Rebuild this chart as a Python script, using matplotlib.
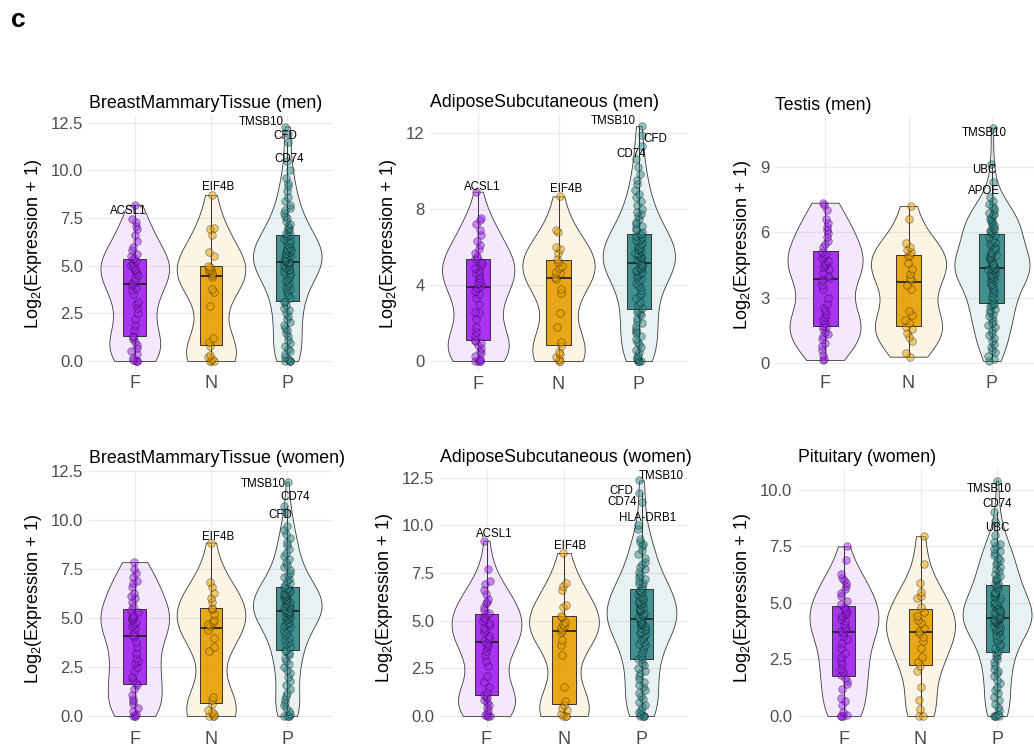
import numpy as np
import matplotlib.pyplot as plt
from matplotlib.colors import to_rgba

plt.rcParams['font.family'] = ['Liberation Sans', 'DejaVu Sans']
plt.rcParams['mathtext.fontset'] = 'custom'
plt.rcParams['mathtext.rm'] = 'Liberation Sans'
plt.rcParams['mathtext.default'] = 'regular'

groups = ['F', 'N', 'P']
colors = ['#A020F0', '#E69F00', '#2F8787']

# ---- BreastMammaryTissue (men)
breast_men_F = [0, 0, 0, 0.05, 0.15, 0.35, 0.5, 0.7, 0.85, 1.0, 1.15, 1.25,
                1.32, 1.6, 1.9, 2.2, 2.5, 2.8, 3.0, 3.1, 3.5, 3.7, 3.85, 4.0,
                4.1, 4.2, 4.35, 4.5, 4.6, 4.75, 4.85, 4.95, 5.05, 5.15, 5.25, 5.35,
                5.4, 5.5, 5.6, 5.8, 6.0, 6.3, 6.6, 6.9, 7.1, 7.3, 7.45, 8.2]
breast_men_N = [0, 0, 0, 0.1, 0.2, 0.3, 0.8, 1.0, 1.2, 2.9, 3.6, 3.8, 4.4,
                4.5, 4.6, 4.7, 4.75, 4.8, 4.95, 5.0, 5.5, 5.7, 6.6, 6.9, 7.0, 8.7]
breast_men_P = [0, 0, 0, 0, 0.1, 0.2, 0.35, 0.5, 0.65, 0.8, 0.95, 1.1, 1.3,
                1.45, 1.6, 1.75, 1.9, 2.05, 2.2, 2.35, 2.5, 2.65, 2.8, 2.95, 3.1,
                3.17, 3.3, 3.45, 3.6, 3.7, 3.8, 3.9, 4.0, 4.1, 4.2, 4.3, 4.4, 4.5,
                4.55, 4.6, 4.7, 4.75, 4.8, 4.9, 4.95, 5.0, 5.05, 5.1, 5.15, 5.2,
                5.2, 5.25, 5.3, 5.35, 5.4, 5.45, 5.5, 5.55, 5.6, 5.65, 5.7, 5.75,
                5.8, 5.85, 5.9, 5.95, 6.0, 6.1, 6.15, 6.2, 6.3, 6.35, 6.4, 6.5, 6.6,
                6.62, 6.7, 6.8, 6.9, 7.0, 7.1, 7.2, 7.35, 7.5, 7.6, 7.75, 7.9, 8.0,
                8.2, 8.4, 8.6, 8.9, 9.2, 9.35, 9.6, 10.0, 10.5, 11.5, 11.9, 12.3]
breast_men_genes = [(0, 'ACSL1', 8.2), (1, 'EIF4B', 8.7), (2, 'TMSB10', 12.3),
                    (2, 'CFD', 11.9), (2, 'CD74', 11.5)]

# ---- AdiposeSubcutaneous (men)
adipose_men_F = [0, 0, 0, 0, 0.1, 0.25, 0.4, 0.55, 0.7, 0.85, 0.95, 1.05,
                 1.12, 1.3, 1.55, 1.8, 2.2, 2.5, 2.6, 3.0, 3.3, 3.5, 3.7, 3.85,
                 3.95, 4.1, 4.2, 4.35, 4.5, 4.6, 4.75, 4.9, 5.0, 5.1, 5.2, 5.35,
                 5.4, 5.5, 5.7, 5.9, 6.1, 6.3, 6.6, 6.9, 7.2, 7.4, 7.5, 8.9]
adipose_men_N = [0, 0, 0.1, 0.2, 0.35, 0.5, 0.8, 1.0, 1.8, 2.5, 3.6, 3.8, 4.3,
                 4.4, 4.6, 4.7, 4.9, 5.0, 5.2, 5.35, 5.7, 5.9, 6.0, 6.8, 6.9, 8.65]
adipose_men_P = [0, 0, 0, 0, 0.1, 0.2, 0.3, 0.45, 0.6, 0.75, 0.9, 1.0, 1.15,
                 1.3, 1.45, 1.6, 1.7, 1.85, 2.0, 2.1, 2.25, 2.4, 2.5, 2.6, 2.7,
                 2.77, 2.95, 3.1, 3.3, 3.45, 3.6, 3.75, 3.9, 4.0, 4.1, 4.2, 4.3,
                 4.4, 4.5, 4.55, 4.6, 4.7, 4.75, 4.8, 4.85, 4.9, 4.95, 5.0, 5.05, 5.1,
                 5.2, 5.25, 5.3, 5.35, 5.4, 5.45, 5.5, 5.55, 5.6, 5.65, 5.7, 5.8,
                 5.85, 5.9, 5.95, 6.0, 6.1, 6.15, 6.2, 6.3, 6.35, 6.4, 6.5, 6.55, 6.65,
                 6.7, 6.8, 6.9, 7.0, 7.1, 7.2, 7.3, 7.45, 7.6, 7.7, 7.85, 8.0, 8.2,
                 8.4, 8.6, 8.8, 9.0, 9.3, 9.5, 9.8, 10.2, 10.6, 11.3, 11.85, 12.35]
adipose_men_genes = [(0, 'ACSL1', 8.9), (1, 'EIF4B', 8.65), (2, 'TMSB10', 12.35),
                     (2, 'CFD', 11.85), (2, 'CD74', 11.3)]

# ---- Testis (men)
testis_F = [0.15, 0.2, 0.4, 0.6, 0.8, 0.95, 1.1, 1.25, 1.35, 1.45, 1.55, 1.65,
            1.72, 1.85, 2.0, 2.1, 2.25, 2.4, 2.55, 2.7, 3.0, 3.4, 3.6, 3.8,
            3.9, 4.0, 4.15, 4.3, 4.4, 4.5, 4.6, 4.7, 4.8, 4.9, 5.0, 5.1,
            5.3, 5.45, 5.6, 5.8, 5.95, 6.1, 6.25, 6.4, 6.6, 7.0, 7.25, 7.35]
testis_N = [0.3, 0.45, 1.0, 1.2, 1.4, 1.55, 1.65, 1.85, 2.0, 2.2, 2.4, 3.4, 3.6,
            3.8, 3.9, 4.1, 4.3, 4.6, 4.9, 4.97, 5.1, 5.2, 5.3, 5.5, 6.6, 7.2]
testis_P = [0.1, 0.2, 0.35, 0.5, 0.6, 0.75, 0.9, 1.0, 1.15, 1.3, 1.4, 1.5, 1.65,
            1.75, 1.85, 1.95, 2.05, 2.15, 2.25, 2.35, 2.45, 2.5, 2.6, 2.65, 2.72,
            2.76, 2.9, 3.0, 3.1, 3.2, 3.3, 3.4, 3.5, 3.6, 3.65, 3.7, 3.8, 3.85,
            3.9, 3.95, 4.0, 4.05, 4.1, 4.15, 4.2, 4.25, 4.28, 4.3, 4.33, 4.35,
            4.35, 4.4, 4.45, 4.5, 4.55, 4.6, 4.7, 4.75, 4.8, 4.85, 4.9, 4.95,
            5.0, 5.05, 5.1, 5.2, 5.25, 5.3, 5.4, 5.5, 5.55, 5.6, 5.7, 5.8, 5.88,
            5.95, 6.0, 6.05, 6.1, 6.15, 6.2, 6.3, 6.35, 6.4, 6.5, 6.55, 6.6, 6.7,
            6.8, 6.85, 6.9, 7.0, 7.1, 7.2, 7.3, 7.45, 7.6, 8.3, 9.1, 10.75]
testis_genes = [(2, 'TMSB10', 10.75), (2, 'UBC', 9.1), (2, 'APOE', 8.3)]

# ---- BreastMammaryTissue (women)
breast_women_F = [0, 0, 0, 0.1, 0.25, 0.4, 0.6, 0.75, 0.85, 1.1, 1.4, 1.6,
                  1.67, 1.85, 2.0, 2.3, 2.5, 2.7, 2.8, 2.95, 3.2, 3.5, 3.8, 4.05,
                  4.15, 4.3, 4.5, 4.6, 4.7, 4.8, 4.9, 5.0, 5.05, 5.15, 5.3, 5.4,
                  5.6, 5.8, 6.0, 6.1, 6.3, 6.6, 6.8, 6.9, 7.1, 7.3, 7.5, 7.85]
breast_women_N = [0, 0, 0, 0.1, 0.2, 0.3, 0.6, 0.8, 0.95, 3.3, 3.5, 4.0, 4.4,
                  4.6, 4.7, 4.8, 4.9, 5.2, 5.45, 5.52, 5.8, 6.0, 6.3, 6.6, 6.85, 8.85]
breast_women_P = [0, 0, 0, 0, 0.1, 0.25, 0.4, 0.55, 0.7, 0.85, 1.0, 1.2, 1.4,
                  1.6, 1.8, 2.0, 2.2, 2.35, 2.5, 2.65, 2.8, 2.95, 3.1, 3.2, 3.3,
                  3.37, 3.5, 3.65, 3.8, 3.9, 4.0, 4.15, 4.25, 4.35, 4.45, 4.55, 4.6,
                  4.7, 4.75, 4.8, 4.9, 4.95, 5.0, 5.05, 5.1, 5.15, 5.2, 5.25, 5.3, 5.33,
                  5.37, 5.4, 5.45, 5.5, 5.55, 5.6, 5.65, 5.7, 5.75, 5.8, 5.85, 5.9,
                  5.95, 6.0, 6.05, 6.1, 6.15, 6.2, 6.25, 6.3, 6.35, 6.4, 6.45, 6.5, 6.55,
                  6.6, 6.7, 6.8, 6.9, 7.0, 7.1, 7.2, 7.3, 7.45, 7.6, 7.7, 7.85, 8.0,
                  8.15, 8.3, 8.5, 8.7, 8.9, 9.1, 9.3, 9.5, 9.7, 10.4, 10.7, 11.95]
breast_women_genes = [(1, 'EIF4B', 8.85), (2, 'TMSB10', 11.95), (2, 'CD74', 10.7),
                      (2, 'CFD', 10.4)]

# ---- AdiposeSubcutaneous (women)
adipose_women_F = [0, 0, 0, 0.05, 0.15, 0.3, 0.45, 0.6, 0.75, 0.85, 0.95, 1.05,
                   1.12, 1.25, 1.5, 1.8, 2.1, 2.6, 2.9, 3.2, 3.4, 3.6, 3.75, 3.85,
                   3.95, 4.05, 4.2, 4.4, 4.5, 4.6, 4.75, 4.9, 5.0, 5.1, 5.2, 5.35,
                   5.4, 5.55, 5.7, 5.9, 6.0, 6.15, 6.4, 6.6, 6.9, 7.1, 7.7, 9.2]
adipose_women_N = [0, 0, 0, 0.1, 0.3, 0.4, 0.6, 0.8, 1.5, 3.2, 3.7, 4.0, 4.4,
                   4.5, 4.6, 4.7, 4.8, 4.95, 5.2, 5.27, 5.7, 5.8, 6.6, 6.8, 6.95, 8.55]
adipose_women_P = [0, 0, 0, 0, 0.1, 0.2, 0.3, 0.45, 0.6, 0.75, 0.9, 1.05, 1.2,
                   1.35, 1.5, 1.65, 1.8, 1.95, 2.1, 2.25, 2.35, 2.5, 2.65, 2.8, 2.97,
                   3.01, 3.15, 3.3, 3.45, 3.6, 3.7, 3.8, 3.9, 4.0, 4.1, 4.2, 4.3,
                   4.35, 4.4, 4.5, 4.55, 4.6, 4.7, 4.75, 4.8, 4.85, 4.9, 4.95, 5.0, 5.08,
                   5.12, 5.2, 5.25, 5.3, 5.35, 5.4, 5.5, 5.55, 5.6, 5.65, 5.7, 5.8,
                   5.85, 5.9, 6.0, 6.05, 6.1, 6.2, 6.25, 6.3, 6.4, 6.45, 6.5, 6.55, 6.63,
                   6.7, 6.8, 6.9, 7.0, 7.1, 7.2, 7.3, 7.4, 7.55, 7.7, 7.8, 7.95, 8.1,
                   8.3, 8.5, 8.7, 8.9, 9.0, 9.1, 9.3, 9.8, 10.0, 11.2, 11.7, 12.35]
adipose_women_genes = [(0, 'ACSL1', 9.2), (1, 'EIF4B', 8.55), (2, 'TMSB10', 12.35),
                       (2, 'CFD', 11.7), (2, 'CD74', 11.2), (2, 'HLA-DRB1', 10.0)]

# ---- Pituitary (women)
pituitary_F = [0, 0, 0, 0.05, 0.2, 0.5, 0.65, 0.8, 1.2, 1.4, 1.55, 1.7,
               1.8, 1.95, 2.1, 2.3, 2.45, 2.6, 2.8, 3.0, 3.25, 3.4, 3.55, 3.65,
               3.75, 3.85, 3.95, 4.05, 4.2, 4.3, 4.4, 4.5, 4.55, 4.65, 4.75, 4.82,
               4.95, 5.1, 5.3, 5.45, 5.6, 5.75, 5.9, 6.0, 6.1, 6.3, 6.9, 7.5]
pituitary_N = [0, 0, 0.3, 0.7, 1.3, 2.0, 2.2, 2.4, 2.6, 3.0, 3.3, 3.5, 3.65,
               3.75, 3.9, 4.1, 4.25, 4.4, 4.6, 4.8, 5.2, 5.3, 5.5, 5.9, 6.7, 7.95]
pituitary_P = [0, 0, 0, 0, 0.1, 0.25, 0.4, 0.55, 0.7, 0.85, 1.0, 1.15, 1.3,
               1.45, 1.6, 1.75, 1.9, 2.0, 2.1, 2.25, 2.4, 2.5, 2.6, 2.7, 2.8,
               2.87, 3.0, 3.1, 3.2, 3.3, 3.4, 3.5, 3.6, 3.7, 3.75, 3.8, 3.85,
               3.9, 3.95, 4.0, 4.05, 4.1, 4.15, 4.2, 4.22, 4.25, 4.28, 4.3, 4.32, 4.34,
               4.36, 4.4, 4.45, 4.5, 4.55, 4.6, 4.65, 4.7, 4.75, 4.8, 4.85, 4.9,
               4.95, 5.0, 5.05, 5.1, 5.2, 5.25, 5.3, 5.4, 5.45, 5.5, 5.6, 5.7, 5.78,
               5.85, 5.9, 6.0, 6.05, 6.1, 6.2, 6.3, 6.4, 6.5, 6.6, 6.7, 6.8, 6.9,
               7.0, 7.1, 7.2, 7.3, 7.4, 7.5, 7.6, 7.7, 8.0, 8.6, 9.0, 10.4]
pituitary_genes = [(2, 'TMSB10', 10.4), (2, 'CD74', 9.0), (2, 'UBC', 8.6)]

W, H = 1034, 749

# title, data, gene labels, label offsets (px), axes box (px: left, top, right, bottom), y ticks
panels = [
    ('BreastMammaryTissue (men)', [breast_men_F, breast_men_N, breast_men_P],
     breast_men_genes, [(-7, 6), (7, -8), (-26, -5), (-2, 2), (2, 17)],
     (89, 114.8, 333, 372.7), [0, 2.5, 5, 7.5, 10, 12.5], '%.1f'),
    ('AdiposeSubcutaneous (men)', [adipose_men_F, adipose_men_N, adipose_men_P],
     adipose_men_genes, [(4, -5), (8, -7), (-26, -5), (16, 4), (-8, 8)],
     (430, 114.2, 687, 372.8), [0, 4, 8, 12], '%d'),
    ('Testis (men)', [testis_F, testis_N, testis_P],
     testis_genes, [(-8, 5), (-8, 6), (-8, 9)],
     (775, 116.8, 1042, 372.7), [0, 3, 6, 9], '%d'),
    ('BreastMammaryTissue (women)', [breast_women_F, breast_women_N, breast_women_P],
     breast_women_genes, [(7, -6), (-24, 2), (8, -9), (-7, 3)],
     (89, 470, 333, 727.8), [0, 2.5, 5, 7.5, 10, 12.5], '%.1f'),
    ('AdiposeSubcutaneous (women)', [adipose_women_F, adipose_women_N, adipose_women_P],
     adipose_women_genes, [(8, -7), (6, -7), (20, -4), (-20, -2), (-19, 0), (6, -7)],
     (440, 468.7, 688, 727.8), [0, 2.5, 5, 7.5, 10, 12.5], '%.1f'),
    ('Pituitary (women)', [pituitary_F, pituitary_N, pituitary_P],
     pituitary_genes, [(-8, 8), (0, -8), (0, 7)],
     (798, 469, 1043, 727.8), [0, 2.5, 5, 7.5, 10], '%.1f'),
]


def nrd0(kde):
    # R's default bandwidth (bw.nrd0), as ggplot uses
    x = np.asarray(kde.dataset).ravel()
    sd = x.std(ddof=1)
    q25, q75 = np.percentile(x, [25, 75])
    lo = min(sd, (q75 - q25) / 1.34)
    return 0.9 * lo * len(x) ** -0.2 / sd


fig = plt.figure(figsize=(W / 100, H / 100), dpi=100)
rng = np.random.default_rng(7)
pos = [1, 2, 3]

for title, data, genes, offs, box, yticks, fmt in panels:
    l, t, r, b = box
    ax = fig.add_axes([l / W, 1 - b / H, (r - l) / W, (b - t) / H])

    parts = ax.violinplot(data, positions=pos, widths=0.9, showextrema=False,
                          points=300, bw_method=nrd0)
    for body, col in zip(parts['bodies'], colors):
        body.set_alpha(None)
        body.set_facecolor(to_rgba(col, 0.1))
        body.set_edgecolor('#3a3a3a')
        body.set_linewidth(0.6)
        body.set_zorder(1)

    bp = ax.boxplot(data, positions=pos, widths=0.3, patch_artist=True,
                    showfliers=False, whis=1.5, manage_ticks=False,
                    medianprops=dict(color='#262626', lw=1.3),
                    whiskerprops=dict(color='#333333', lw=0.7),
                    capprops=dict(lw=0),
                    boxprops=dict(edgecolor='#333333', lw=0.7))
    for patch, col in zip(bp['boxes'], colors):
        patch.set_facecolor(to_rgba(col, 0.9))
        patch.set_zorder(2)

    for i, (vals, col) in enumerate(zip(data, colors)):
        xj = pos[i] + rng.uniform(-0.045, 0.045, len(vals))
        ax.scatter(xj, vals, s=30, facecolor=to_rgba(col, 0.5),
                   edgecolor=(0, 0, 0, 0.45), linewidth=0.5, zorder=3)

    for (gi, name, val), (dx, dy) in zip(genes, offs):
        ax.annotate(name, xy=(pos[gi], val), xytext=(dx * 0.72, -dy * 0.72),
                    textcoords='offset points', ha='center', va='center',
                    fontsize=8.3, color='black', zorder=4)

    allv = np.concatenate([np.asarray(d, float) for d in data])
    lo, hi = allv.min(), allv.max()
    pad = 0.05 * (hi - lo)
    ax.set_ylim(lo - pad, hi + pad)
    ax.set_xlim(0.4, 3.6)
    ax.set_xticks(pos)
    ax.set_xticklabels(groups)
    ax.set_yticks(yticks)
    ax.set_yticklabels([fmt % v for v in yticks])
    ax.tick_params(axis='y', length=0, pad=4, labelsize=12, labelcolor='#4D4D4D')
    ax.tick_params(axis='x', length=0, pad=2, labelsize=13, labelcolor='#4D4D4D')
    for s in ax.spines.values():
        s.set_visible(False)
    ax.grid(True, color='#EBEBEB', lw=0.9)
    ax.set_axisbelow(True)
    ax.set_ylabel('Log$_2$(Expression + 1)', fontsize=13, labelpad=5)
    ax.set_title(title, loc='left', fontsize=12.8, pad=5)

fig.text(11 / W, 1 - 27 / H, 'c', fontsize=19, fontweight='bold', va='baseline')

fig.savefig('out.png', dpi=100, facecolor='white')
